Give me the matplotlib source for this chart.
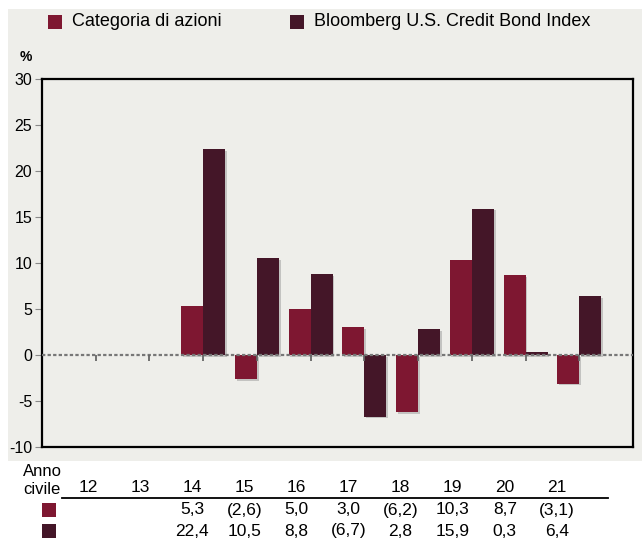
import numpy as np
import matplotlib.pyplot as plt
import matplotlib.patheffects as pe
from matplotlib.patches import Rectangle

years = ["12", "13", "14", "15", "16", "17", "18", "19", "20", "21"]
categoria = [np.nan, np.nan, 5.3, -2.6, 5.0, 3.0, -6.2, 10.3, 8.7, -3.1]
bloomberg = [np.nan, np.nan, 22.4, 10.5, 8.8, -6.7, 2.8, 15.9, 0.3, 6.4]
series_names = ["Categoria di azioni", "Bloomberg U.S. Credit Bond Index"]
colors = ["#7e1731", "#441628"]
yticks = [-10, -5, 0, 5, 10, 15, 20, 25, 30]

plt.rcParams['font.family'] = ['Liberation Sans', 'DejaVu Sans']

W, H = 642, 542
fig = plt.figure(figsize=(W / 100, H / 100), dpi=100)
fig.patch.set_facecolor("white")
# grey panel behind legend and chart
fig.patches.append(Rectangle((8 / W, 1 - 461 / H), 1 - 8 / W, (461 - 9) / H,
                             transform=fig.transFigure, facecolor="#eeeeea",
                             edgecolor="none", zorder=-5))

ax = fig.add_axes([42 / W, 1 - 447 / H, (633 - 42) / W, (447 - 79) / H])
ax.set_facecolor("#eeeeea")
ax.set_zorder(2)

x = np.arange(len(years))
w = 0.41
shadow = [pe.SimplePatchShadow(offset=(1.2, -1.2), shadow_rgbFace="#999999",
                               alpha=0.5), pe.Normal()]
b1 = ax.bar(x - w / 2, categoria, w, color=colors[0], zorder=3)
b2 = ax.bar(x + w / 2, bloomberg, w, color=colors[1], zorder=3)
for p in list(b1) + list(b2):
    p.set_path_effects(shadow)

ax.set_xlim(-1, 10)
ax.set_ylim(-10, 30)
ax.set_yticks(yticks)
ax.set_yticklabels([str(v) for v in yticks], fontsize=11.5)
ax.tick_params(axis="y", length=5, color="#888888", pad=2)
ax.set_xticks([])
for s in ax.spines.values():
    s.set_linewidth(1.6)
    s.set_color("black")

# zero line with small ticks at group centres
ax.axhline(0, color="#777777", linestyle=(0, (1.5, 1)), linewidth=1.6, zorder=4)
ax.vlines(x, -0.65, 0, color="#666666", linewidth=1.3, zorder=4)

fig.text(20 / W, 1 - 57 / H, "%", fontsize=10, fontweight="bold", va="center")

# legend
for i, name in enumerate(series_names):
    lx = [48, 290][i]
    fig.patches.append(Rectangle((lx / W, 1 - 29 / H), 14 / W, 14 / H,
                                 transform=fig.transFigure,
                                 facecolor=colors[i], edgecolor="none"))
    fig.text((lx + 24) / W, 1 - 21 / H, name, fontsize=13, va="center")

# table under the chart
fig.text(42 / W, 1 - 471 / H, "Anno", fontsize=12, ha="center", va="center")
fig.text(42 / W, 1 - 489 / H, "civile", fontsize=12, ha="center", va="center")
tx = 88 + 52.1 * np.arange(len(years))
for i, yr in enumerate(years):
    fig.text(tx[i] / W, 1 - 488 / H, yr, fontsize=12.5, ha="center", va="center")
fig.add_artist(plt.Line2D([62 / W, 608 / W], [1 - 498 / H, 1 - 498 / H],
                          color="black", linewidth=1.3))


def fmt(v):
    if np.isnan(v):
        return ""
    s = f"{abs(v):.1f}".replace(".", ",")
    return f"({s})" if v < 0 else s


for r, vals in enumerate([categoria, bloomberg]):
    ry = [510, 531][r]
    fig.patches.append(Rectangle((42 / W, 1 - (ry + 7) / H), 14 / W, 14 / H,
                                 transform=fig.transFigure,
                                 facecolor=colors[r], edgecolor="none"))
    for i, v in enumerate(vals):
        fig.text(tx[i] / W, 1 - ry / H, fmt(v), fontsize=12.5,
                 ha="center", va="center")

fig.savefig("out.png", dpi=100)
